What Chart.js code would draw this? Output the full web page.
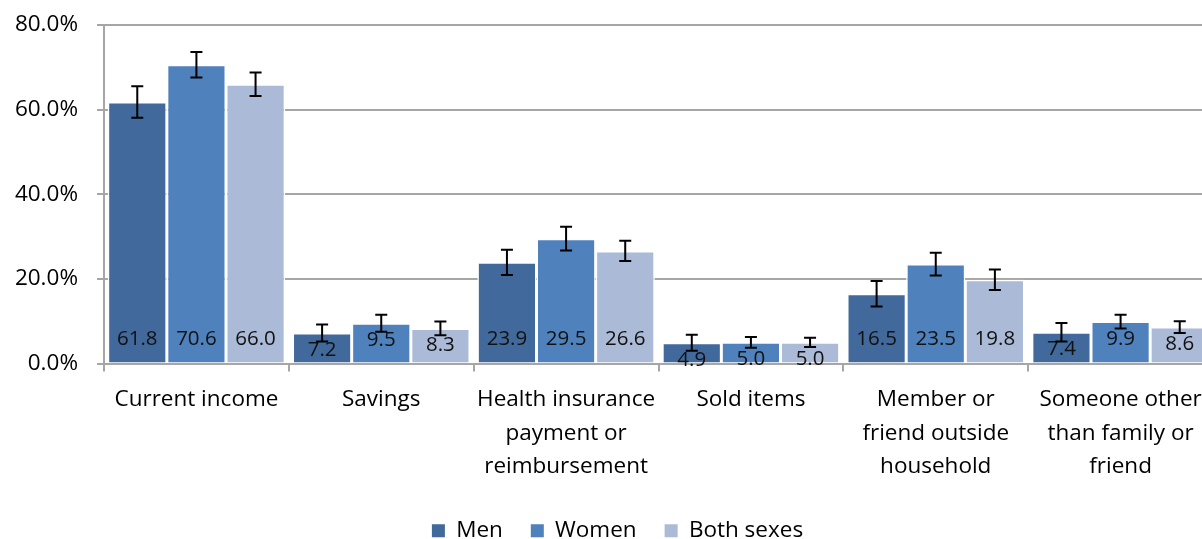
<!DOCTYPE html>
<html>
<head>
<meta charset="utf-8">
<title>Source of payment by sex</title>
<script src="https://cdn.jsdelivr.net/npm/chart.js@4.4.1/dist/chart.umd.min.js"></script>
<style>
    html, body { margin: 0; padding: 0; background: #fff; overflow: hidden; }
    #wrap { width: 1235px; height: 552px; position: relative; }
</style>
</head>
<body>
<div id="wrap"><canvas id="payChart"></canvas></div>
<script>
// ==========================================
// DATA
// ==========================================
const categories = [
    ['Current income'],
    ['Savings'],
    ['Health insurance', 'payment or', 'reimbursement'],
    ['Sold items'],
    ['Member or', 'friend outside', 'household'],
    ['Someone other', 'than family or', 'friend']
];
const seriesNames = ['Men', 'Women', 'Both sexes'];

const menValues   = [61.8, 7.2, 23.9, 4.9, 16.5, 7.4];
const womenValues = [70.6, 9.5, 29.5, 5.0, 23.5, 9.9];
const bothValues  = [66.0, 8.3, 26.6, 5.0, 19.8, 8.6];

// half-width of the confidence interval for each bar
const menErrors   = [3.7, 2.0, 3.0, 1.9, 3.0, 2.2];
const womenErrors = [3.0, 2.0, 2.8, 1.25, 2.7, 1.6];
const bothErrors  = [2.8, 1.6, 2.4, 1.1, 2.4, 1.4];

const yTicks = [0, 20, 40, 60, 80];

const seriesColors = ['#41699b', '#4f81bd', '#aabad7'];
const fontFamily = '"Open Sans", "Liberation Sans", sans-serif';

// ==========================================
// PLUGINS: value labels + error bars
// ==========================================
const errorSets = [menErrors, womenErrors, bothErrors];

const barExtras = {
    id: 'barExtras',
    afterLayout(chart) {
        // nudge the legend so it centres under the full plot width
        const lg = chart.legend;
        if (lg) { lg.left += 11; lg.right += 11; }
    },
    afterDatasetsDraw(chart) {
        const ctx = chart.ctx;
        const y = chart.scales.y;
        const base = y.getPixelForValue(0);

        // value labels sit near the bar base (or just under the top of short bars)
        ctx.save();
        ctx.font = '20.5px ' + fontFamily;
        ctx.fillStyle = '#111';
        ctx.textAlign = 'center';
        ctx.textBaseline = 'middle';
        chart.data.datasets.forEach((ds, di) => {
            const meta = chart.getDatasetMeta(di);
            meta.data.forEach((bar, i) => {
                const cy = Math.max(base - 24, bar.y + 17);
                ctx.fillText(ds.data[i].toFixed(1), bar.x, cy);
            });
        });
        ctx.restore();

        // error bars
        ctx.save();
        ctx.strokeStyle = '#000';
        ctx.lineWidth = 2;
        chart.data.datasets.forEach((ds, di) => {
            const meta = chart.getDatasetMeta(di);
            meta.data.forEach((bar, i) => {
                const v = ds.data[i];
                const e = errorSets[di][i];
                const top = y.getPixelForValue(v + e);
                const bot = y.getPixelForValue(v - e);
                ctx.beginPath();
                ctx.moveTo(bar.x, top); ctx.lineTo(bar.x, bot);
                ctx.moveTo(bar.x - 6, top); ctx.lineTo(bar.x + 6, top);
                ctx.moveTo(bar.x - 6, bot); ctx.lineTo(bar.x + 6, bot);
                ctx.stroke();
            });
        });
        ctx.restore();
    }
};

// ==========================================
// CHART
// ==========================================
function initChart() {
    const ctx = document.getElementById('payChart').getContext('2d');
    const valueSets = [menValues, womenValues, bothValues];

    new Chart(ctx, {
        type: 'bar',
        data: {
            labels: categories,
            datasets: seriesNames.map((name, i) => ({
                label: name,
                data: valueSets[i],
                backgroundColor: seriesColors[i],
                borderColor: '#ffffff',
                borderWidth: 1.5,
                categoryPercentage: 0.96,
                barPercentage: 1.0
            }))
        },
        options: {
            responsive: true,
            maintainAspectRatio: false,
            animation: false,
            layout: { padding: { top: 25, right: 22, left: 0, bottom: 0 } },
            plugins: {
                tooltip: { enabled: false },
                legend: {
                    position: 'bottom',
                    labels: {
                        boxWidth: 13,
                        boxHeight: 13,
                        padding: 28,
                        color: '#000',
                        font: { family: fontFamily, size: 22.5 },
                        generateLabels: () => seriesNames.map((name, i) => ({
                            text: name,
                            fillStyle: seriesColors[i],
                            strokeStyle: seriesColors[i],
                            lineWidth: 0,
                            datasetIndex: i
                        }))
                    }
                }
            },
            scales: {
                x: {
                    grid: {
                        drawOnChartArea: false,
                        color: '#a6a6a6',
                        lineWidth: 2,
                        tickLength: 8,
                        offset: true
                    },
                    border: { color: '#a6a6a6', width: 2 },
                    ticks: {
                        autoSkip: false,
                        maxRotation: 0,
                        padding: 12,
                        color: '#000',
                        font: { family: fontFamily, size: 22.5, lineHeight: 1.47 }
                    },
                    afterFit: (scale) => { scale.height = 128; }
                },
                y: {
                    min: 0,
                    max: 80,
                    afterBuildTicks: (scale) => { scale.ticks = yTicks.map(v => ({ value: v })); },
                    grid: { color: '#a6a6a6', lineWidth: 2, tickLength: 7 },
                    border: { color: '#a6a6a6', width: 2 },
                    ticks: {
                        padding: 19,
                        color: '#000',
                        font: { family: fontFamily, size: 22.5 },
                        callback: (v) => v.toFixed(1) + '%'
                    },
                    afterFit: (scale) => {
                        scale.width = 104;
                        scale.paddingTop = 0;
                        scale.paddingBottom = 0;
                    }
                }
            }
        },
        plugins: [barExtras]
    });
}

document.addEventListener('DOMContentLoaded', initChart);
</script>
</body>
</html>
